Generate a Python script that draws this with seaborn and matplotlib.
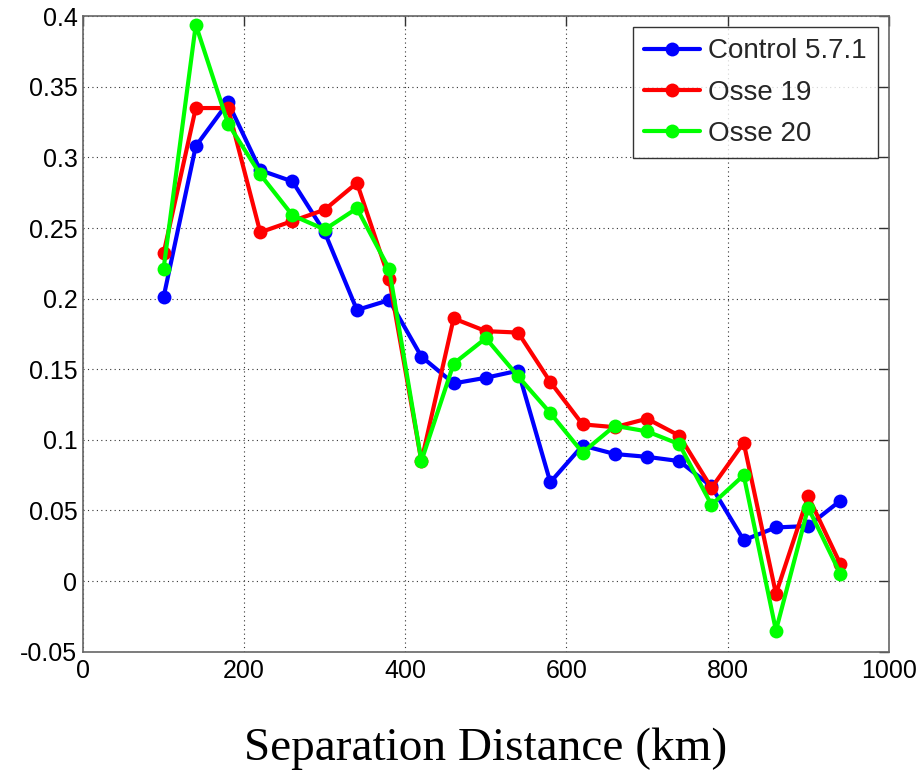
import matplotlib
matplotlib.use("Agg")
import matplotlib.pyplot as plt
import seaborn as sns
import pandas as pd

distance = [100, 140, 180, 220, 260, 300, 340, 380, 420, 460, 500,
            540, 580, 620, 660, 700, 740, 780, 820, 860, 900, 940]
control = [0.201, 0.308, 0.339, 0.291, 0.283, 0.247, 0.192, 0.199, 0.159, 0.140, 0.144,
           0.149, 0.070, 0.096, 0.090, 0.088, 0.085, 0.067, 0.029, 0.038, 0.039, 0.057]
osse19 = [0.232, 0.335, 0.335, 0.247, 0.255, 0.263, 0.282, 0.214, 0.085, 0.186, 0.177,
          0.176, 0.141, 0.111, 0.109, 0.115, 0.103, 0.066, 0.098, -0.009, 0.060, 0.012]
osse20 = [0.221, 0.394, 0.324, 0.288, 0.259, 0.249, 0.264, 0.221, 0.085, 0.154, 0.172,
          0.145, 0.119, 0.091, 0.110, 0.106, 0.097, 0.054, 0.075, -0.035, 0.052, 0.005]
series_names = ["Control 5.7.1", "Osse 19", "Osse 20"]
colors = ["#0000ff", "#ff0000", "#00ff00"]
xticks = [0, 200, 400, 600, 800, 1000]
yticks = [-0.05, 0, 0.05, 0.1, 0.15, 0.2, 0.25, 0.3, 0.35, 0.4]
yticklabels = ["-0.05", "0", "0.05", "0.1", "0.15", "0.2", "0.25", "0.3", "0.35", "0.4"]

df = pd.DataFrame({
    "x": distance * 3,
    "y": control + osse19 + osse20,
    "series": [series_names[0]] * len(distance) + [series_names[1]] * len(distance)
              + [series_names[2]] * len(distance),
})

sns.set_style("white")
plt.rcParams["font.family"] = ["Liberation Sans", "DejaVu Sans"]

fig = plt.figure(figsize=(9.23, 7.74), dpi=100)
ax = fig.add_axes([0.0899, 0.158, 0.873, 0.821])

sns.lineplot(data=df, x="x", y="y", hue="series", hue_order=series_names,
             palette=colors, marker="o", markersize=10, markeredgewidth=0,
             linewidth=3, ax=ax, sort=False, estimator=None)

ax.set_xlim(0, 1000)
ax.set_ylim(-0.05, 0.4)
ax.set_xticks(xticks)
ax.set_xticklabels([str(t) for t in xticks])
ax.set_yticks(yticks)
ax.set_yticklabels(yticklabels)
ax.tick_params(axis="both", direction="in", length=7, width=1, labelsize=18,
               top=True, right=True, color="#333333", labelcolor="black")
ax.tick_params(axis="x", pad=5)
ax.tick_params(axis="y", pad=4)
ax.grid(True, linestyle=(0, (1, 3)), color="#333333", linewidth=0.8)
for s in ax.spines.values():
    s.set_color("#666666")
    s.set_linewidth(1.2)

ax.set_ylabel("")
ax.set_xlabel("Separation Distance (km)", fontsize=34, family=["Liberation Serif"],
              labelpad=32, color="black")

leg = ax.legend(loc="upper right", fontsize=20, frameon=True, fancybox=False,
                edgecolor="black", handlelength=2.0, borderpad=0.4,
                labelspacing=0.55, handletextpad=0.3, borderaxespad=0.4)
leg.get_frame().set_linewidth(1.0)

fig.savefig("out.png", dpi=100)
